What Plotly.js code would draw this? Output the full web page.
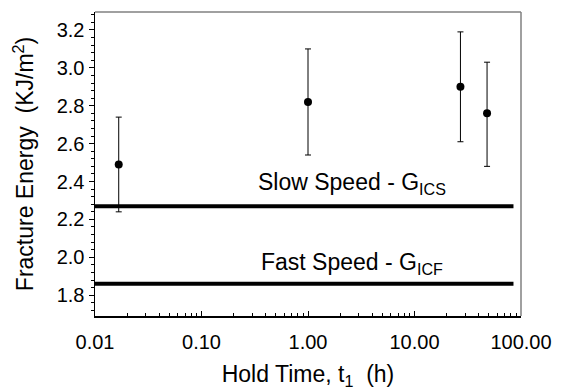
<!DOCTYPE html>
<html>
<head>
<meta charset="utf-8">
<script src="https://cdn.plot.ly/plotly-3.0.1.min.js"></script>
<style>html,body{margin:0;padding:0;background:#fff;}#chart{width:563px;height:390px;}</style>
</head>
<body>
<div id="chart"></div>
<script>
// Data
var holdTime = [0.0167, 1.0, 27, 48];
var fractureEnergy = [2.49, 2.82, 2.90, 2.76];
var errUpper = [2.74, 3.10, 3.19, 3.03];
var errLower = [2.24, 2.54, 2.61, 2.48];
var slowSpeedX = [0.01, 85];
var slowSpeedY = [2.27, 2.27];
var fastSpeedX = [0.01, 85];
var fastSpeedY = [1.86, 1.86];
var xTickVals = [0.01, 0.1, 1, 10, 100];
var xTickText = ["0.01", "0.10", "1.00", "10.00", "100.00"];

var plus = fractureEnergy.map(function(v, i){ return errUpper[i] - v; });
var minus = fractureEnergy.map(function(v, i){ return v - errLower[i]; });

var minorX = [];
for (var d = 0.01; d < 100; d *= 10) {
  for (var k = 2; k <= 9; k++) minorX.push(+(d * k).toPrecision(3));
}

var FONT = "Liberation Sans, Arial, sans-serif";

var traces = [
  {x: slowSpeedX, y: slowSpeedY, mode: 'lines', line: {color: '#000', width: 4}, hoverinfo: 'skip'},
  {x: fastSpeedX, y: fastSpeedY, mode: 'lines', line: {color: '#000', width: 4}, hoverinfo: 'skip'},
  {
    x: holdTime, y: fractureEnergy, mode: 'markers',
    marker: {color: '#000', size: 8},
    error_y: {type: 'data', symmetric: false, array: plus, arrayminus: minus, color: '#000', thickness: 1, width: 3}
  }
];

var layout = {
  width: 563, height: 390,
  margin: {l: 95, r: 42, t: 12, b: 74},
  paper_bgcolor: '#fff', plot_bgcolor: '#fff',
  showlegend: false,
  font: {family: FONT, color: '#000', size: 20},
  xaxis: {
    type: 'log', range: [-2, 2],
    tickmode: 'array', tickvals: xTickVals, ticktext: xTickText,
    ticks: 'inside', ticklen: 5, tickwidth: 1, tickcolor: '#000',
    minor: {tickmode: 'array', tickvals: minorX, ticks: 'inside', ticklen: 3, tickcolor: '#000'},
    showgrid: false, zeroline: false,
    showline: true, linecolor: '#000', linewidth: 1.5,
    tickfont: {size: 20, family: FONT},
    ticklabelstandoff: 7,
    title: {text: 'Hold Time, t<sub>1</sub>  (h)', font: {size: 23, family: FONT}, standoff: 15}
  },
  yaxis: {
    range: [1.69, 3.295],
    tick0: 1.8, dtick: 0.2, tickformat: '.1f',
    ticks: 'outside', ticklen: 5, tickwidth: 1, tickcolor: '#000',
    minor: {tick0: 1.8, dtick: 0.04, ticks: 'outside', ticklen: 3, tickcolor: '#000'},
    showgrid: false, zeroline: false,
    showline: true, linecolor: '#000', linewidth: 1.5,
    tickfont: {size: 20, family: FONT},
    title: {text: 'Fracture Energy  (KJ/m<sup>2</sup>)', font: {size: 23, family: FONT}, standoff: 16}
  },
  shapes: [
    {type: 'line', xref: 'paper', yref: 'paper', x0: 0, x1: 1, y0: 1, y1: 1, line: {color: '#808080', width: 1.5}},
    {type: 'line', xref: 'paper', yref: 'paper', x0: 1, x1: 1, y0: 0, y1: 1, line: {color: '#808080', width: 1.5}}
  ],
  annotations: [
    {xref: 'paper', yref: 'y', x: 0.603, y: 2.27, yanchor: 'bottom', yshift: 6, showarrow: false,
     text: 'Slow Speed - G<sub>ICS</sub>', font: {size: 23, family: FONT}},
    {xref: 'paper', yref: 'y', x: 0.603, y: 1.86, yanchor: 'bottom', yshift: 4, showarrow: false,
     text: 'Fast Speed - G<sub>ICF</sub>', font: {size: 23, family: FONT}}
  ]
};

Plotly.newPlot('chart', traces, layout, {staticPlot: true, displayModeBar: false});
</script>
</body>
</html>
